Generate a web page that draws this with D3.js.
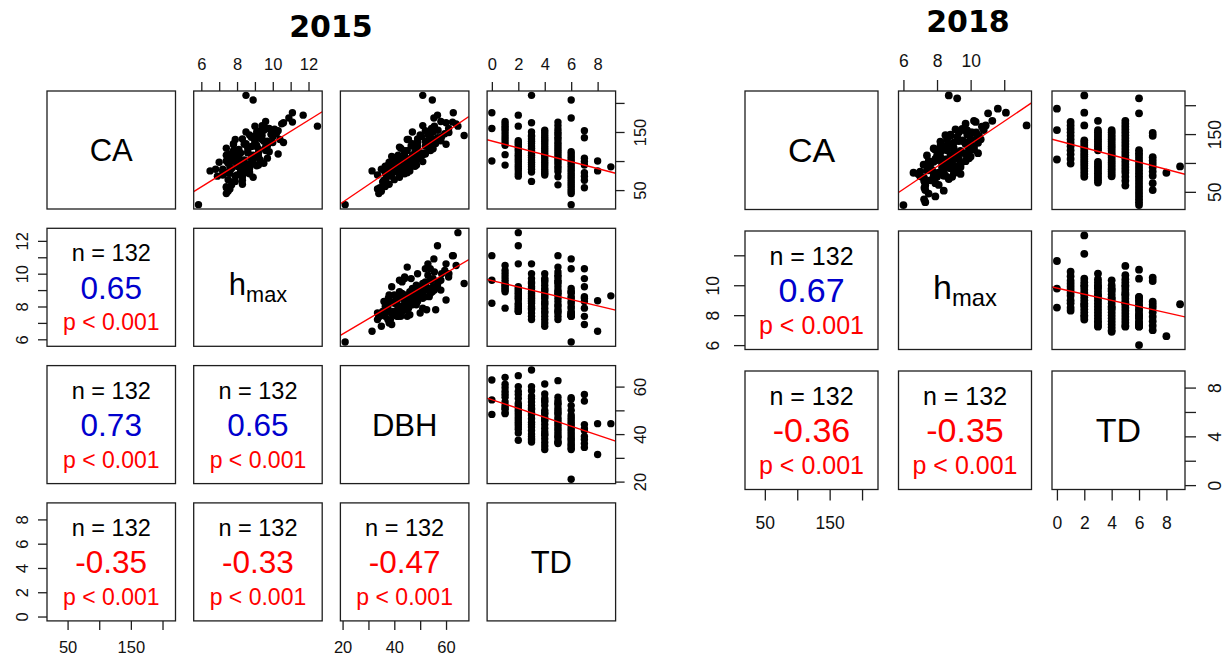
<!DOCTYPE html>
<html>
<head>
<meta charset="utf-8">
<script src="https://cdn.jsdelivr.net/npm/d3@7"></script>
<style>
  body { margin: 0; background: #fff; }
  svg { display: block; }
</style>
</head>
<body>
<svg id="chart" width="1224" height="658"></svg>
<script>
// ---------------- 2015 survey (132 trees, listed by TD group 0..9) ----------------
const td2015 = [
  0,0,0,
  1,1,1,1,1,1,1,1,1,1,1,1,
  2,2,2,2,2,2,2,2,2,2,2,2,2,2,2,2,2,2,2,
  3,3,3,3,3,3,3,3,3,3,3,3,3,3,3,3,3,3,3,3,3,
  4,4,4,4,4,4,4,4,4,4,4,4,4,4,4,4,4,4,4,4,4,
  5,5,5,5,5,5,5,5,5,5,5,5,5,5,5,5,5,5,5,5,5,5,
  6,6,6,6,6,6,6,6,6,6,6,6,6,6,6,6,6,6,6,6,6,6,
  7,7,7,7,7,7,7,7,7,
  8,8,
  9
];
const ca2015 = [
  183,156,100,
  168,164,160,156,152,147,142,137,132,127,111,93,
  179,160,135,132,129,125,121,118,114,110,107,103,99,95,91,87,83,78,74,
  213,166,150,144,142,138,134,130,126,122,118,114,110,106,102,98,94,90,86,81,65,
  153,149,145,141,137,134,130,126,122,118,114,110,106,102,98,94,90,86,82,79,76,
  167,161,155,150,146,141,137,132,128,124,120,116,112,108,104,100,96,91,87,82,73,59,
  205,174,116,112,108,104,100,96,92,88,84,80,76,72,68,64,60,56,52,48,44,25,
  152,140,105,99,93,80,74,67,54,
  100,83,
  90
];
const hmax2015 = [
  11.1,9.6,8.2,
  9.6,10.5,9.0,9.8,9.3,10.2,8.9,9.4,10.0,9.1,7.9,9.2,
  11.7,12.5,9.0,10.6,8.4,8.8,9.2,7.8,8.6,8.1,9.1,7.7,8.9,8.0,8.5,7.7,8.2,8.7,7.9,
  8.5,10.6,9.1,9.4,10.0,8.3,9.5,7.8,9.7,8.6,8.0,9.2,7.4,8.9,8.4,7.6,8.8,8.2,7.2,8.7,7.9,
  9.5,10.0,8.7,9.1,7.9,9.7,8.5,9.0,7.4,9.6,8.2,8.9,7.7,9.3,7.0,8.6,8.1,6.8,8.3,7.6,7.2,
  11.1,9.4,10.1,8.5,9.9,8.8,10.4,9.0,7.8,9.6,8.1,9.8,7.6,9.2,8.9,7.4,9.5,8.0,8.7,7.2,8.3,7.7,
  8.9,10.9,8.6,10.3,7.9,8.8,8.2,7.5,9.1,7.6,8.5,7.4,8.0,8.9,7.5,7.7,8.3,7.4,7.6,7.5,7.4,5.84,
  10.3,9.2,9.7,7.9,8.5,8.6,6.9,8.3,7.4,
  8.35,6.49,
  8.65
];
const dbh2015 = [
  62.8,54.4,48.3,
  58.0,63.9,55.5,61.0,52.0,59.5,50.5,56.8,49.0,53.5,51.0,48.6,
  56.7,64.6,58.0,53.0,60.0,49.0,55.0,45.0,52.0,47.0,50.0,43.0,51.0,42.0,48.0,40.5,46.0,44.0,37.4,
  51.0,60.0,55.0,67.0,58.3,49.0,52.0,56.0,46.5,53.5,44.0,50.5,41.5,48.0,45.0,39.0,43.0,40.0,37.5,38.0,36.7,
  56.9,61.1,50.0,53.5,45.5,55.0,47.0,52.0,42.5,54.0,44.0,49.0,39.5,48.5,38.0,46.0,41.0,35.0,40.0,36.5,33.5,
  62.5,51.0,55.5,47.0,53.0,54.0,45.0,49.0,52.5,42.0,48.5,44.0,50.0,39.0,46.0,41.0,43.0,36.5,40.0,38.5,37.0,36.0,
  54.7,55.3,48.0,52.0,44.0,50.0,41.0,46.0,47.0,39.0,43.0,45.0,37.5,42.0,40.0,35.5,38.0,36.5,33.5,35.0,34.0,21.0,
  53.9,56.7,44.0,42.3,37.7,41.5,39.0,36.0,34.4,
  44.4,31.4,
  44.4
];

// ---------------- 2018 survey (132 trees, listed by TD group 0..9) ----------------
const td2018 = [
  0,0,0,
  1,1,1,1,1,1,1,1,1,1,1,1,
  2,2,2,2,2,2,2,2,2,2,2,2,2,2,2,2,2,2,2,
  3,3,3,3,3,3,3,3,3,3,3,3,3,3,3,3,3,3,3,3,3,
  4,4,4,4,4,4,4,4,4,4,4,4,4,4,4,4,4,4,4,4,4,
  5,5,5,5,5,5,5,5,5,5,5,5,5,5,5,5,5,5,5,5,5,5,
  6,6,6,6,6,6,6,6,6,6,6,6,6,6,6,6,6,6,6,6,6,6,
  7,7,7,7,7,7,7,7,7,7,
  8,
  9
];
const ca2018 = [
  194,157,106,
  171,165,159,153,147,141,135,129,122,115,107,99,
  217,187,165,139,135,131,127,123,119,115,111,107,103,99,95,91,86,81,76,
  173,157,153,149,145,141,137,133,129,125,122,102,98,94,90,86,82,78,74,70,66,
  157,153,149,145,141,137,133,129,125,121,117,113,109,105,101,97,93,89,85,81,77,
  173,168,163,158,153,148,143,138,133,128,123,118,113,108,103,98,93,88,83,76,69,61,
  212,186,122,117,112,107,102,97,92,87,82,77,72,67,62,57,52,47,42,37,32,27,
  152,147,110,104,98,92,85,78,65,53,
  83,
  94
];
const hmax2018 = [
  11.62,9.78,8.51,
  10.3,10.9,9.5,10.1,8.8,10.6,9.0,9.9,8.3,9.7,9.3,8.5,
  8.7,12.1,13.33,9.5,10.44,8.6,9.9,10.2,8.2,9.2,10.0,7.9,9.7,8.4,9.0,8.8,7.71,9.4,8.0,
  10.2,10.78,9.3,9.8,10.4,8.6,9.6,10.0,8.2,9.0,9.9,7.8,9.4,8.8,7.5,9.2,8.0,8.4,7.23,7.6,7.3,
  9.6,10.33,8.8,9.2,10.0,8.2,9.7,8.5,7.8,9.4,9.0,7.4,9.8,8.0,8.6,7.2,9.1,7.6,8.4,6.89,7.0,
  11.29,9.7,10.67,9.1,10.0,8.5,10.4,9.3,8.7,10.2,7.9,9.5,8.8,9.9,7.5,8.3,9.4,7.7,8.1,8.9,7.23,7.3,
  9.2,11.04,8.6,10.44,8.0,9.22,7.6,8.9,8.3,7.4,9.0,7.8,8.7,7.3,8.1,7.25,8.4,7.5,7.9,7.23,7.3,6.0,
  10.28,10.5,8.2,8.9,7.6,8.7,7.0,8.5,7.9,7.3,
  6.6,
  8.73
];

// Pairwise statistics shown in the lower panels (row variable vs column variable)
const corr2015 = { "1-0": 0.65, "2-0": 0.73, "2-1": 0.65, "3-0": -0.35, "3-1": -0.33, "3-2": -0.47 };
const corr2018 = { "1-0": 0.67, "2-0": -0.36, "2-1": -0.35 };
const nLabel = "n = 132";
const pLabel = "p < 0.001";

// Least-squares fits (intercept, slope) of row variable on column variable, upper panels
const fit2015 = { "0-1": [-59.0, 19.1], "0-2": [-31.4, 3.02], "0-3": [134.6, -5.95],
                  "1-2": [4.45, 0.0932], "1-3": [9.58, -0.192], "2-3": [54.5, -1.865] };
const fit2018 = { "0-1": [-63.0, 19.6], "0-2": [138.8, -6.23], "1-2": [9.81, -0.206] };

// Axis ticks: all tick positions, and those that carry a label
const caTicks = [50, 100, 150, 200], caLabels = [50, 150];
const hmaxTicks2015 = [6, 7, 8, 9, 10, 11, 12], hmaxLabels2015 = [6, 8, 10, 12];
const hmaxTicks2018 = [6, 8, 10, 12], hmaxLabels2018 = [6, 8, 10];
const dbhTicks = [20, 30, 40, 50, 60], dbhLabels = [20, 40, 60];
const tdTicks = [0, 2, 4, 6, 8], tdLabels = [0, 2, 4, 6, 8], tdLabelsSide = [0, 4, 8];

const svg = d3.select("#chart");
const FONT = "'Liberation Sans', Arial, Helvetica, sans-serif";
const BLUE = "#0000CD", RED = "#FF0000";

// Data range widened by 4% on each side
function padded(vals) {
  const [a, b] = d3.extent(vals);
  const d = (b - a) * 0.04;
  return [a - d, b + d];
}

function drawMatrix(cfg) {
  const g = svg.append("g");
  const nv = cfg.vars.length;
  const px = j => cfg.x0 + j * cfg.stepX;
  const py = i => cfg.y0 + i * cfg.stepY;
  const xs = cfg.vars.map((v, j) => d3.scaleLinear().domain(padded(v.values)).range([px(j), px(j) + cfg.w]));
  const ys = cfg.vars.map((v, i) => d3.scaleLinear().domain(padded(v.values)).range([py(i) + cfg.h, py(i)]));

  // title
  g.append("text")
    .attr("x", cfg.titleX).attr("y", cfg.titleY)
    .attr("text-anchor", "middle")
    .attr("font-family", "'DejaVu Sans', Verdana, sans-serif")
    .attr("font-weight", "bold").attr("font-size", 30)
    .text(cfg.title);

  for (let i = 0; i < nv; i++) {
    for (let j = 0; j < nv; j++) {
      const x = px(j), y = py(i), w = cfg.w, h = cfg.h;
      const cx = x + w / 2, cy = y + h / 2;
      const cell = g.append("g");
      const clipId = `clip-${cfg.title}-${i}-${j}`;
      cell.append("clipPath").attr("id", clipId)
        .append("rect").attr("x", x).attr("y", y).attr("width", w).attr("height", h);

      if (i === j) {
        const v = cfg.vars[i];
        const t = cell.append("text")
          .attr("x", cx).attr("y", cy + 0.358 * cfg.diagFs - (v.sub ? 3 : 0))
          .attr("text-anchor", "middle")
          .attr("font-family", FONT).attr("font-size", cfg.diagFs)
          .attr("fill", "#000");
        t.append("tspan").text(v.name);
        if (v.sub) {
          t.append("tspan").attr("font-size", cfg.diagFs * 0.7)
            .attr("dy", cfg.diagFs * 0.2).text(v.sub);
        }
      } else if (i < j) {
        // scatter: x = column variable, y = row variable
        const xv = cfg.vars[j].values, yv = cfg.vars[i].values;
        const pts = xv.map((d, k) => [d, yv[k]]);
        const inner = cell.append("g").attr("clip-path", `url(#${clipId})`);
        inner.selectAll("circle").data(pts).join("circle")
          .attr("cx", d => xs[j](d[0])).attr("cy", d => ys[i](d[1]))
          .attr("r", cfg.r).attr("fill", "#000");
        const [a, b] = cfg.fits[`${i}-${j}`];
        const [x1, x2] = xs[j].domain();
        inner.append("line")
          .attr("x1", xs[j](x1)).attr("y1", ys[i](a + b * x1))
          .attr("x2", xs[j](x2)).attr("y2", ys[i](a + b * x2))
          .attr("stroke", RED).attr("stroke-width", 1.4);
      } else {
        const r = cfg.corr[`${i}-${j}`];
        cell.append("text")
          .attr("x", cx).attr("y", y + 0.21 * h + 0.358 * cfg.nFs)
          .attr("text-anchor", "middle").attr("font-family", FONT)
          .attr("font-size", cfg.nFs).attr("fill", "#000").text(nLabel);
        cell.append("text")
          .attr("x", cx).attr("y", cy + 0.358 * cfg.rFs)
          .attr("text-anchor", "middle").attr("font-family", FONT)
          .attr("font-size", cfg.rFs).attr("fill", r >= 0 ? BLUE : RED)
          .text(d3.format(".2f")(r).replace("−", "-"));
        cell.append("text")
          .attr("x", cx).attr("y", y + 0.795 * h + 0.358 * cfg.pFs)
          .attr("text-anchor", "middle").attr("font-family", FONT)
          .attr("font-size", cfg.pFs).attr("fill", RED).text(pLabel);
      }

      cell.append("rect")
        .attr("x", x).attr("y", y).attr("width", w).attr("height", h)
        .attr("fill", "none").attr("stroke", "#1e1e1e").attr("stroke-width", 1.3);
    }
  }

  // axes on alternating sides
  cfg.vars.forEach((v, k) => {
    const ax = v.axis;
    if (k % 2 === 1) {
      addAxis(g, "top", xs[k], ax.top || ax, py(0), cfg);
      addAxis(g, "left", ys[k], ax.left || ax, px(0), cfg);
    } else {
      addAxis(g, "bottom", xs[k], ax.bottom || ax, py(nv - 1) + cfg.h, cfg);
      addAxis(g, "right", ys[k], ax.right || ax, px(nv - 1) + cfg.w, cfg);
    }
  });
}

function addAxis(g, side, scale, spec, pos, cfg) {
  const gen = { top: d3.axisTop, bottom: d3.axisBottom, left: d3.axisLeft, right: d3.axisRight }[side](scale)
    .tickValues(spec.ticks)
    .tickFormat(d => spec.labels.includes(d) ? String(d) : "")
    .tickSize(cfg.tick).tickSizeOuter(0);
  const horiz = side === "top" || side === "bottom";
  const a = g.append("g")
    .attr("transform", horiz ? `translate(0,${pos})` : `translate(${pos},0)`)
    .call(gen);
  a.select(".domain").remove();
  a.selectAll(".tick line").attr("stroke", "#1e1e1e").attr("stroke-width", 1.3);
  const off = cfg.labelOff[side];
  const sign = (side === "top" || side === "left") ? -1 : 1;
  const txt = a.selectAll(".tick text")
    .attr("font-family", FONT).attr("font-size", cfg.tickFs).attr("fill", "#111")
    .attr("text-anchor", "middle");
  if (horiz) {
    txt.attr("y", sign * off).attr("dy", "0.35em").attr("x", 0);
  } else {
    txt.attr("x", 0).attr("y", 0).attr("dy", "0.35em")
      .attr("transform", `translate(${sign * off},0) rotate(-90)`);
  }
}

drawMatrix({
  title: "2015", titleX: 331, titleY: 37,
  x0: 47, y0: 91, w: 128.5, h: 118, stepX: 146.7, stepY: 137.3,
  r: 3.7, tick: 9, tickFs: 16.5,
  labelOff: { top: 27, bottom: 26, left: 24.5, right: 24.5 },
  diagFs: 31, nFs: 23.5, rFs: 31.5, pFs: 23,
  corr: corr2015, fits: fit2015,
  vars: [
    { name: "CA", values: ca2015, axis: { ticks: caTicks, labels: caLabels } },
    { name: "h", sub: "max", values: hmax2015, axis: { ticks: hmaxTicks2015, labels: hmaxLabels2015 } },
    { name: "DBH", values: dbh2015, axis: { ticks: dbhTicks, labels: dbhLabels } },
    { name: "TD", values: td2015, axis: { ticks: tdTicks, labels: tdLabels } }
  ]
});

drawMatrix({
  title: "2018", titleX: 968, titleY: 32,
  x0: 745, y0: 91, w: 133, h: 118.5, stepX: 153.5, stepY: 140,
  r: 3.9, tick: 11, tickFs: 17.5,
  labelOff: { top: 30, bottom: 33, left: 32, right: 29.5 },
  diagFs: 34, nFs: 25, rFs: 34, pFs: 25,
  corr: corr2018, fits: fit2018,
  vars: [
    { name: "CA", values: ca2018, axis: { ticks: caTicks, labels: caLabels } },
    { name: "h", sub: "max", values: hmax2018, axis: { ticks: hmaxTicks2018, labels: hmaxLabels2018 } },
    { name: "TD", values: td2018,
      axis: { bottom: { ticks: tdTicks, labels: tdLabels }, right: { ticks: tdTicks, labels: tdLabelsSide } } }
  ]
});
</script>
</body>
</html>
